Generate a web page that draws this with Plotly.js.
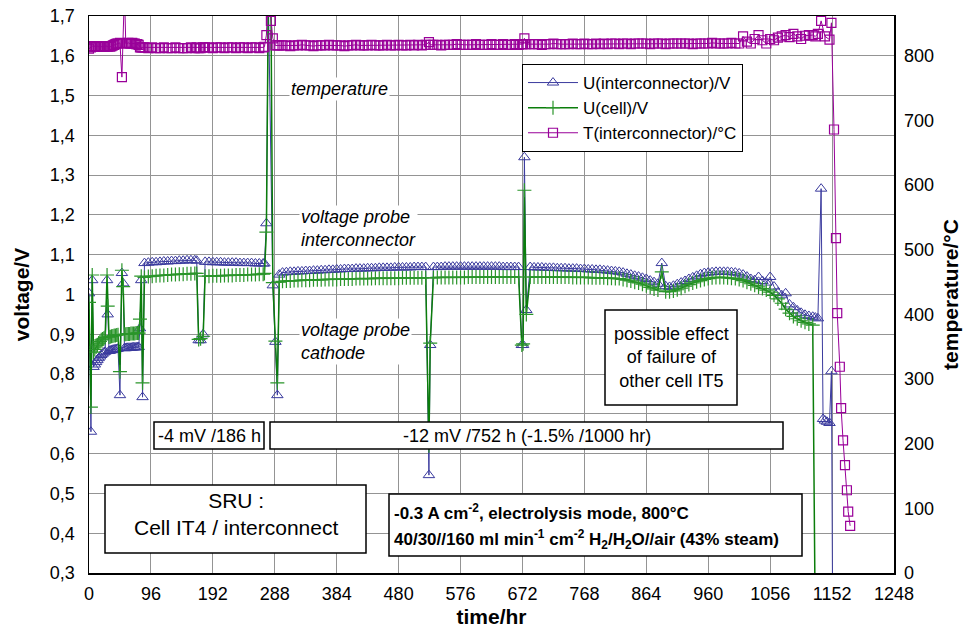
<!DOCTYPE html>
<html><head><meta charset="utf-8">
<script src="https://cdn.plot.ly/plotly-3.0.1.min.js"></script>
<style>html,body{margin:0;padding:0;background:#fff;} #chart{width:974px;height:628px;}</style>
</head><body><div id="chart"></div>
<script>
// ---- data ----
const hours = [
  // start-up
  0,3,5,7,9, 11,13,15,17,19, 21,23,25,28,29, 31,33,35,37,39, 41,43,45,48,51,
  53,55,57,59,61, 63,65,67,69,71, 73,75,77,79,81, 83,
  // first plateaus
  86,92,98,104,110,116,122,128,134,140,146,152,158,164,
  167,170,173,177,
  180,186,192,198,204,210,216,222,228,234,240,246,252,258,264,270,
  272,275,278,282,285,289,292,295,
  // long-term operation
  300,306,312,318,324,330,336,342,348,354,
  360,366,372,378,384,390,396,402,408,414,
  420,426,432,438,444,450,456,462,468,474,
  480,486,492,498,504,510,516,522,
  527,529,
  534,540,546,552,558,564,570,576,582,588,
  594,600,606,612,618,624,630,636,642,648,
  654,660,666,
  671,673,675,678,
  684,690,696,702,708,714,720,726,732,738,
  744,750,756,762,768,774,780,786,792,798,
  804,810,816,822,828,834,840,846,852,858,
  864,870,876,882,888,894,900,906,912,918,
  924,930,936,942,948,954,960,966,972,978,
  984,990,996,1002,1008,1014,1020,1026,1032,1038,
  1044,1050,1056,1062,1068,1074,1080,1086,1092,1098,
  1104,1110,1116,1122,
  // shut-down
  1126,1130,1135,1138,1141,1144,1148,1151,1153,1155,
  1158,1160,1164,1166,1169,1172,1175,1177,1180
];

const uInterconnector = [
  1.003,0.655,1.036,0.818,0.824, 0.830,0.835,0.840,0.844,0.848, 0.851,0.854,0.856,1.036,0.950,
  0.858,0.859,0.860,0.861,0.862, 0.862,0.863,0.864,0.747,1.054,
  1.028,0.865,0.865,0.866,0.866, 0.866,0.866,0.867,0.867,0.867, 0.867,0.868,0.868,0.915,1.036, 0.742,
  1.079,1.080,1.081,1.081,1.082,1.083,1.083,1.084,1.084,1.085,1.085,1.086,1.086,1.086,
  1.085,0.885,0.885,0.900,
  1.082,1.082,1.081,1.081,1.081,1.080,1.080,1.080,1.080,1.079,1.079,1.079,1.079,1.078,1.078,1.078,
  1.078,1.179,1.750,null,1.023,0.881,0.747,1.050,
  1.055,1.056,1.057,1.057,1.058,1.058,1.059,1.059,1.060,1.060,
  1.061,1.061,1.062,1.062,1.063,1.063,1.064,1.064,1.064,1.065,
  1.065,1.065,1.066,1.066,1.066,1.067,1.067,1.067,1.067,1.068,
  1.068,1.068,1.068,1.068,1.069,1.069,1.069,1.069,
  0.546,0.873,
  1.069,1.069,1.069,1.070,1.070,1.070,1.070,1.070,1.070,1.070,
  1.070,1.070,1.070,1.070,1.070,1.070,1.070,1.070,1.069,1.069,
  1.069,1.069,1.069,
  0.873,0.873,1.345,0.961,
  1.069,1.068,1.068,1.068,1.067,1.067,1.067,1.066,1.066,1.066,
  1.065,1.065,1.065,1.064,1.064,1.063,1.063,1.062,1.062,1.061,
  1.060,1.059,1.058,1.057,1.055,1.052,1.050,1.047,1.045,1.042,
  1.039,1.035,1.031,1.027,1.079,1.021,1.019,1.022,1.026,1.030,
  1.034,1.039,1.043,1.047,1.051,1.054,1.055,1.056,1.057,1.057,
  1.057,1.057,1.056,1.055,1.053,1.050,1.045,1.039,1.036,1.044,
  1.034,1.030,1.044,1.020,1.005,0.998,1.003,0.975,0.968,0.960,
  0.954,0.949,0.946,0.944,
  0.942,0.940,1.266,0.687,0.683,0.680,0.677,0.807,0.150,null,
  null,null,null,null,null,null,null,null,null
];

const uCell = [
  0.980,0.717,1.049,0.855,0.862, 0.868,0.873,0.878,0.882,0.886, 0.888,0.890,0.892,1.049,0.971,
  0.893,0.894,0.895,0.896,0.897, 0.897,0.898,0.899,0.806,1.061,
  1.020,0.900,0.900,0.901,0.901, 0.901,0.902,0.902,0.902,0.902, 0.903,0.903,0.903,0.938,1.046, 0.778,
  1.043,1.045,1.046,1.047,1.048,1.048,1.049,1.050,1.050,1.051,1.051,1.052,1.052,1.053,
  1.053,0.887,0.889,0.895,
  1.046,1.046,1.047,1.047,1.047,1.048,1.048,1.048,1.049,1.049,1.049,1.050,1.050,1.050,1.051,1.051,
  1.053,1.157,1.750,1.750,1.030,0.883,0.778,1.031,
  1.033,1.034,1.034,1.035,1.035,1.036,1.036,1.036,1.037,1.037,
  1.037,1.038,1.038,1.038,1.038,1.039,1.039,1.039,1.039,1.040,
  1.040,1.040,1.040,1.040,1.041,1.041,1.041,1.041,1.041,1.041,
  1.041,1.042,1.042,1.042,1.042,1.042,1.042,1.042,
  0.620,0.878,
  1.042,1.043,1.043,1.043,1.043,1.043,1.043,1.043,1.043,1.044,
  1.044,1.044,1.044,1.044,1.044,1.044,1.044,1.044,1.044,1.044,
  1.044,1.044,1.044,
  0.873,0.876,1.262,0.950,
  1.044,1.044,1.044,1.044,1.044,1.044,1.044,1.044,1.044,1.044,
  1.044,1.043,1.043,1.043,1.043,1.043,1.042,1.042,1.042,1.042,
  1.041,1.041,1.040,1.040,1.038,1.036,1.034,1.031,1.029,1.026,
  1.022,1.018,1.014,1.011,1.057,1.007,1.007,1.009,1.012,1.016,
  1.021,1.025,1.029,1.032,1.035,1.038,1.040,1.042,1.043,1.043,
  1.043,1.042,1.041,1.040,1.038,1.035,1.031,1.027,1.023,1.019,
  1.015,1.011,1.006,0.998,0.989,0.978,0.963,0.953,0.945,0.939,
  0.934,0.930,0.926,0.923,
  0.150,null,null,null,null,null,null,null,null,null,
  null,null,null,null,null,null,null,null,null
];

const tInterconnector = [
  811,813,815,814,815, 814,815,814,815,814, 815,814,815,815,814,
  815,814,815,816,817, 818,819,819,820,767,
  null,900,819,819,820, 819,819,820,819,819, 818,818,817,813,813, 813,
  813,812,813,812,812,813,812,812,813,812,812,812,813,812,
  813,812,812,813,
  813,813,812,813,813,812,813,813,812,813,813,812,813,813,812,813,
  814,832,900,854,827,816,816,816,
  816,816,815,816,816,817,816,816,815,816,
  816,816,817,816,816,816,815,816,816,817,
  816,816,816,817,816,816,816,817,816,816,
  817,816,816,817,816,817,816,817,
  821,817,
  817,817,816,817,817,817,818,817,817,817,
  817,818,817,817,817,818,817,817,818,817,
  817,818,817,
  818,818,827,818,
  818,818,818,817,818,818,819,818,818,818,
  818,819,818,818,819,818,818,819,818,819,
  818,819,819,818,819,819,818,819,819,819,
  819,818,819,819,819,818,819,819,819,819,
  819,819,818,819,819,819,819,820,819,819,
  819,819,820,819,819,830,822,819,826,832,
  824,819,826,824,828,830,832,829,834,830,
  826,831,832,832,
  830,834,854,null,830,null,825,851,null,686,
  518,402,319,255,205,167,128,95,73
];

const seriesNames = ['U(interconnector)/V', 'U(cell)/V', 'T(interconnector)/°C'];
const timeTicks = [0,96,192,288,384,480,576,672,768,864,960,1056,1152,1248];
const voltTicks = [0.3,0.4,0.5,0.6,0.7,0.8,0.9,1.0,1.1,1.2,1.3,1.4,1.5,1.6,1.7];
const voltTickText = ['0,3','0,4','0,5','0,6','0,7','0,8','0,9','1','1,1','1,2','1,3','1,4','1,5','1,6','1,7'];
const tempTicks = [0,100,200,300,400,500,600,700,800];

// ---- layout helpers (positions only) ----
const L = 89, R = 894, T = 16, B = 573;
const PX = p => (p - L) / (R - L);
const PY = p => (B - p) / (B - T);

const n = hours.length;
if (uInterconnector.length !== n || uCell.length !== n || tInterconnector.length !== n) {
  document.body.innerText = 'LEN MISMATCH ' + n + ' ' + uInterconnector.length + ' ' + uCell.length + ' ' + tInterconnector.length;
}

const BLUE = '#3b3b9e', GREEN = '#0b7d0b', PURPLE = '#990099';
const FONT = 'Liberation Sans, Arial, Helvetica, sans-serif';

const traces = [
  {x: hours, y: uInterconnector, name: seriesNames[0], type: 'scatter', mode: 'lines+markers', connectgaps: true,
   line: {color: BLUE, width: 1},
   marker: {symbol: 'triangle-up-open', size: 10, color: BLUE, line: {width: 1, color: BLUE}}},
  {x: hours, y: uCell, name: seriesNames[1], type: 'scatter', mode: 'lines+markers', connectgaps: true,
   line: {color: GREEN, width: 1.5},
   marker: {symbol: 'cross-thin', size: 10, color: '#2a952a', line: {width: 1.2, color: '#2a952a'}}},
  {x: hours, y: tInterconnector, name: seriesNames[2], type: 'scatter', mode: 'lines+markers', connectgaps: true,
   yaxis: 'y2',
   line: {color: PURPLE, width: 1},
   marker: {symbol: 'square-open', size: 9, color: PURPLE, line: {width: 1.2, color: PURPLE}}}
];

function box(x0, x1, y0, y1) {
  return {type: 'rect', xref: 'paper', yref: 'paper', x0: PX(x0), x1: PX(x1), y0: PY(y1), y1: PY(y0),
          fillcolor: '#ffffff', line: {color: '#000', width: 1.5}, layer: 'above'};
}
function txt(text, x, y, size, opts) {
  return Object.assign({xref: 'paper', yref: 'paper', x: PX(x), y: PY(y), text: text, showarrow: false,
    xanchor: 'center', yanchor: 'middle', font: {family: FONT, size: size, color: '#000'}}, opts || {});
}

const layout = {
  width: 974, height: 628,
  margin: {l: L, r: 974 - R, t: T, b: 628 - B, pad: 0},
  paper_bgcolor: '#fff', plot_bgcolor: '#fff',
  font: {family: FONT, size: 18, color: '#000'},
  showlegend: true,
  legend: {x: PX(522), y: PY(64), xanchor: 'left', yanchor: 'top', bgcolor: '#fff',
           bordercolor: '#000', borderwidth: 1, font: {family: FONT, size: 17, color: '#000'},
           itemwidth: 50, tracegroupgap: 0},
  xaxis: {range: [0, 1248], tickmode: 'array', tickvals: timeTicks, ticktext: timeTicks.map(String),
          showgrid: true, gridcolor: '#949494', gridwidth: 1, zeroline: false,
          showline: true, mirror: true, linecolor: '#000', linewidth: 1.5, ticks: '',
          ticklabelstandoff: 4, tickfont: {size: 18},
          title: {text: '<b>time/hr</b>', font: {size: 21}, standoff: 8}},
  yaxis: {range: [0.3, 1.7], tickmode: 'array', tickvals: voltTicks, ticktext: voltTickText,
          showgrid: true, gridcolor: '#949494', gridwidth: 1, zeroline: false,
          showline: true, linecolor: '#000', linewidth: 1.5, ticks: '',
          ticklabelstandoff: 9, tickfont: {size: 18},
          title: {text: '<b>voltage/V</b>', font: {size: 21}, standoff: 14}},
  yaxis2: {range: [0, 1300 / 1.3 * 0.86154], overlaying: 'y', side: 'right', tickmode: 'array', tickvals: tempTicks,
           showgrid: false, zeroline: false, showline: true, linecolor: '#000', linewidth: 1.5, ticks: '',
           ticklabelstandoff: 5, tickfont: {size: 18},
           title: {text: '<b>temperature/°C</b>', font: {size: 21}, standoff: 10}},
  shapes: [
    box(154, 264, 422, 449),
    box(270, 783, 422, 449),
    box(105, 366, 485, 553),
    box(389, 802, 494, 556),
    box(605, 737, 310, 405)
  ],
  annotations: [
    txt('<i>temperature</i>', 289, 89, 18, {xanchor: 'left', bgcolor: '#fff'}),
    txt('<i>voltage probe<br>interconnector</i>', 299, 228.5, 18, {xanchor: 'left', align: 'left', bgcolor: '#fff'}),
    txt('<i>voltage probe<br>cathode</i>', 299, 341.5, 18, {xanchor: 'left', align: 'left', bgcolor: '#fff'}),
    txt('possible effect<br>of failure of<br>other cell IT5', 671, 357.5, 18, {align: 'center'}),
    txt('-4 mV /186 h', 209, 435.5, 18),
    txt('-12 mV /752 h (-1.5% /1000 hr)', 526.5, 435.5, 18),
    txt('SRU :<br>Cell IT4 / interconnect', 235.5, 514, 21, {align: 'center'}),
    txt('<b>-0.3 A cm<sup>-2</sup>, electrolysis mode, 800°C</b>', 392, 511.7, 17, {xanchor: 'left'}),
    txt('<b>40/30//160 ml min<sup>-1</sup> cm<sup>-2</sup> H<sub>2</sub>/H<sub>2</sub>O//air (43% steam)</b>', 392, 539.3, 17, {xanchor: 'left'})
  ]
};

Plotly.newPlot('chart', traces, layout, {displayModeBar: false, staticPlot: true});
</script>
</body></html>
